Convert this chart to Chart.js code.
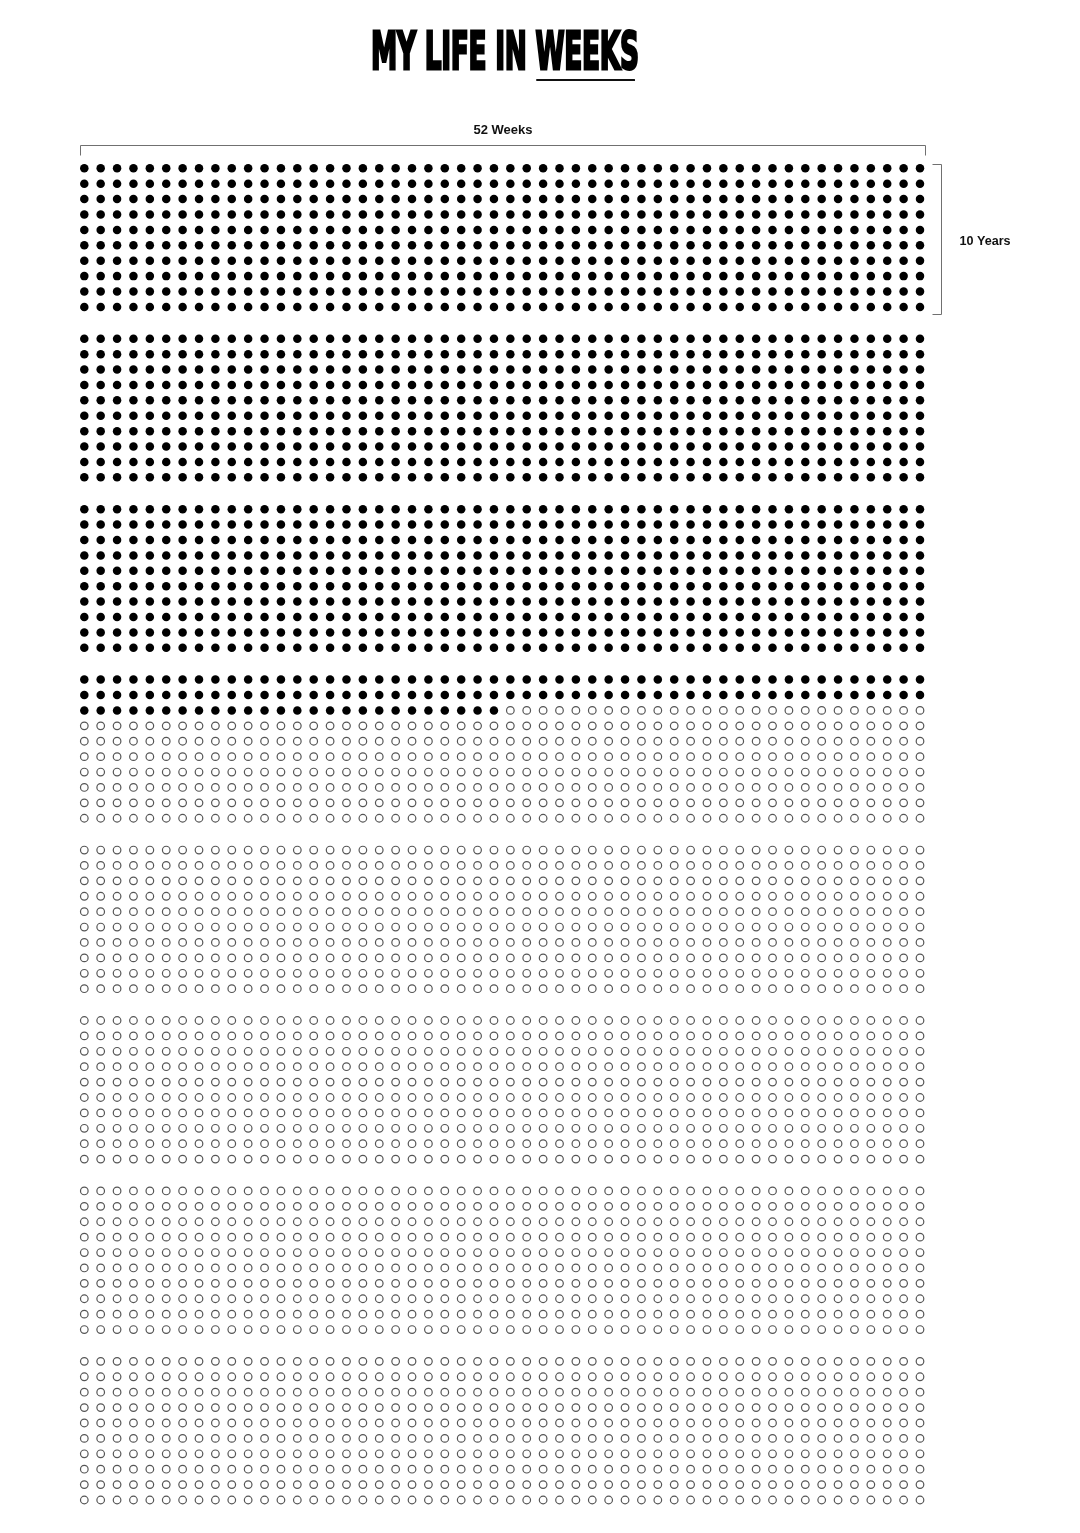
<!DOCTYPE html>
<html><head><meta charset="utf-8">
<script src="https://cdn.jsdelivr.net/npm/chart.js@4.4.1/dist/chart.umd.min.js"></script>
<style>
html,body{margin:0;padding:0;background:#fff;}
#wrap{position:relative;width:1080px;height:1533px;overflow:hidden;background:#fff;}
#c{position:absolute;left:0;top:0;}
#title{position:absolute;left:0;top:0;white-space:nowrap;font-family:"Liberation Sans Narrow","DejaVu Sans Condensed","Liberation Sans",sans-serif;font-weight:bold;color:#000;transform-origin:0 0;line-height:1;-webkit-text-stroke:2.8px #000;margin:0;letter-spacing:-0.5px;}
#uline{position:absolute;left:536px;top:78.5px;width:99px;height:2.6px;background:#111;border-radius:2px 1px 1px 2px;}
</style></head>
<body><div id="wrap"><canvas id="c" width="1080" height="1533"></canvas><h1 id="title">MY LIFE IN WEEKS</h1><div id="uline"></div></div>
<script>
// ---- data ----
const weeksPerYear = 52;
const totalYears = 80;
const yearsLived = 32;      // full years lived
const weeksIntoYear = 26;   // weeks lived in the current year
const yearsPerBlock = 10;
const topLabel = "52 Weeks";
const sideLabel = "10 Years";
const titleText = "MY LIFE IN WEEKS";

// ---- layout helpers ----
const gapRows = 1.065; // extra space between 10-year blocks, in row units
const yPos = y => y + Math.floor(y / yearsPerBlock) * gapRows;

const weeksLived = yearsLived * weeksPerYear + weeksIntoYear;
const lived = [], ahead = [];
for (let y = 0; y < totalYears; y++) {
  for (let w = 0; w < weeksPerYear; w++) {
    const idx = y * weeksPerYear + w;
    (idx < weeksLived ? lived : ahead).push({x: w, y: yPos(y)});
  }
}

// ---- title sizing ----
(function(){
  const t = document.getElementById('title');
  const fam = getComputedStyle(t).fontFamily;
  const stroke = 2.8;
  const mc = document.createElement('canvas').getContext('2d');
  mc.font = 'bold 100px ' + fam;
  const m = mc.measureText(titleText);
  const cap = m.actualBoundingBoxAscent;
  const targetCap = 42 - stroke, targetW = 267 - stroke, left = 367 + stroke / 2, base = 71 - stroke / 2;
  const fs = 100 * targetCap / cap;
  t.style.fontSize = fs + 'px';
  mc.font = 'bold ' + fs + 'px ' + fam;
  mc.letterSpacing = '-0.5px';
  const m2 = mc.measureText(titleText);
  const w = m2.actualBoundingBoxLeft + m2.actualBoundingBoxRight;
  const sx = targetW / w;
  const A = m2.fontBoundingBoxAscent, D = m2.fontBoundingBoxDescent;
  const baselineOffset = (fs - (A + D)) / 2 + A;
  t.style.top = (base - baselineOffset) + 'px';
  t.style.left = (left - m2.actualBoundingBoxLeft * sx) + 'px';
  t.style.transform = 'scaleX(' + sx + ')';
})();

// ---- brackets and labels ----
const bracketPlugin = {
  id: 'brackets',
  afterDraw(chart) {
    const {ctx, scales: {x, y}} = chart;
    const x0 = Math.round(x.getPixelForValue(0) - 4.3) + 0.5;
    const x1 = Math.round(x.getPixelForValue(weeksPerYear - 1) + 5) + 0.5;
    const r0 = y.getPixelForValue(yPos(0));
    const r9 = y.getPixelForValue(yPos(yearsPerBlock - 1));
    const yTop = Math.round(r0 - 23) + 0.5;
    ctx.save();
    ctx.strokeStyle = '#707070';
    ctx.lineWidth = 1;
    ctx.beginPath();
    ctx.moveTo(x0, yTop + 10); ctx.lineTo(x0, yTop); ctx.lineTo(x1, yTop); ctx.lineTo(x1, yTop + 10);
    ctx.stroke();
    const xr = Math.round(x1 + 15) + 0.5;
    const yb0 = Math.round(r0 - 4) + 0.5, yb1 = Math.round(r9 + 7) + 0.5;
    ctx.beginPath();
    ctx.moveTo(xr - 9, yb0); ctx.lineTo(xr, yb0); ctx.lineTo(xr, yb1); ctx.lineTo(xr - 9, yb1);
    ctx.stroke();
    ctx.fillStyle = '#111';
    ctx.font = 'bold 13px "Liberation Sans", Arial, sans-serif';
    ctx.textBaseline = 'middle';
    ctx.textAlign = 'center';
    ctx.fillText(topLabel, (x0 + x1) / 2, yTop - 15);
    ctx.textAlign = 'left';
    ctx.font = 'bold 12.6px "Liberation Sans", Arial, sans-serif';
    ctx.fillText(sideLabel, xr + 18, (r0 + r9) / 2 + 4);
    ctx.restore();
  }
};

new Chart(document.getElementById('c').getContext('2d'), {
  type: 'scatter',
  data: {
    datasets: [
      {label: 'Weeks lived', data: lived, pointStyle: 'circle', pointRadius: 4.25,
       pointBackgroundColor: '#000', pointBorderColor: '#000', pointBorderWidth: 0, clip: false},
      {label: 'Weeks ahead', data: ahead, pointStyle: 'circle', pointRadius: 3.8,
       pointBackgroundColor: '#fff', pointBorderColor: '#555', pointBorderWidth: 1.2, clip: false}
    ]
  },
  options: {
    responsive: false, animation: false, devicePixelRatio: 1, events: [],
    layout: {padding: {left: 84.3, right: 160, top: 168.3, bottom: 33}},
    plugins: {legend: {display: false}, tooltip: {enabled: false}, title: {display: false}},
    scales: {
      x: {type: 'linear', min: 0, max: weeksPerYear - 1, display: false},
      y: {type: 'linear', min: 0, max: yPos(totalYears - 1), reverse: true, display: false}
    }
  },
  plugins: [bracketPlugin]
});
</script>
</body></html>
